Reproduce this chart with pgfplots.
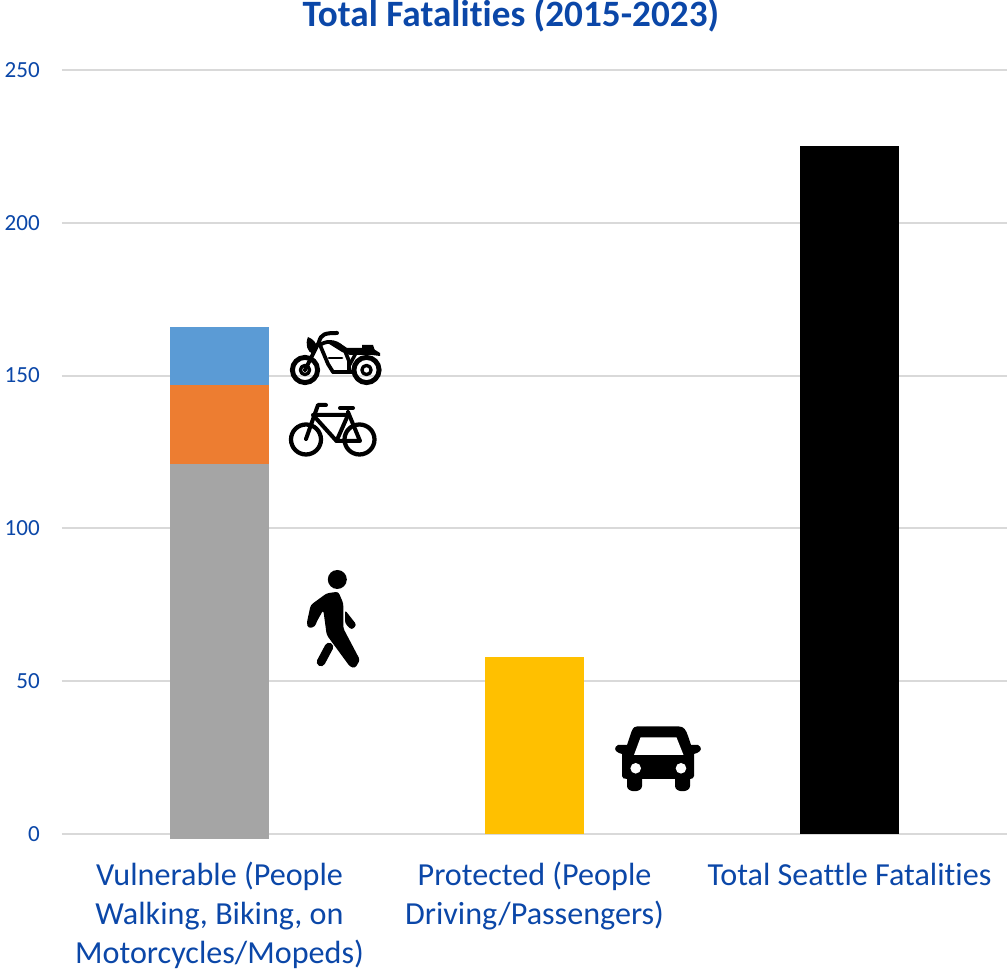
\documentclass[border=0pt]{standalone}
\usepackage{pgfplots}
\pgfplotsset{compat=1.18}
\usepackage{fontspec}
\setmainfont[Ligatures=NoCommon]{Carlito}
\definecolor{labelblue}{HTML}{0B47A8}
\definecolor{gridgray}{HTML}{D9D9D9}
\definecolor{walkgray}{HTML}{A5A5A5}
\definecolor{bikeorange}{HTML}{ED7D31}
\definecolor{motoblue}{HTML}{5B9BD5}
\definecolor{autoyellow}{HTML}{FFC000}
\begin{document}
\begin{tikzpicture}[x=0.75pt,y=0.75pt]
\path[use as bounding box] (0,0) rectangle (1007,970);
% Shared frame: plot area spans 945 x 764 units of 0.75pt
\pgfplotsset{frame/.style={
  at={(46.5pt,102pt)}, anchor=south west,
  scale only axis, width=708.75pt, height=573pt,
  xmin=-0.5, xmax=2.5, ymin=0, ymax=250,
  clip=false}}
\begin{axis}[
  frame,
  ybar stacked, bar width=74.25pt,
  ymajorgrids, grid style={gridgray, line width=1.5pt},
  axis line style={draw=none},
  major tick length=0pt,
  xtick={0,1,2},
  xticklabels={{Vulnerable (People\\Walking, Biking, on\\Motorcycles/Mopeds)},
               {Protected (People\\Driving/Passengers)},
               {\vphantom{(}Total Seattle Fatalities}},
  ytick={0,50,100,150,200,250},
  /pgf/number format/assume math mode=true,
  xticklabel style={align=center, anchor=north, inner sep=0pt, yshift=-20.6pt,
    font=\fontsize{24.1}{29.25}\selectfont, text=labelblue},
  yticklabel style={anchor=east, inner sep=0pt, xshift=-16.5pt,
    font=\fontsize{17.3}{20}\selectfont, text=labelblue},
  title={\textbf{Total Fatalities (2015-2023)}},
  title style={at={(0.475,1.0707)}, anchor=center, inner sep=0pt, yshift=-6pt,
    font=\fontsize{27.9}{30}\selectfont, text=labelblue},
]
\addplot[fill=walkgray, draw=none] coordinates {(0,121) (1,0) (2,0)};
\addplot[fill=bikeorange, draw=none] coordinates {(0,26) (1,0) (2,0)};
\addplot[fill=motoblue, draw=none] coordinates {(0,19) (1,0) (2,0)};
\addplot[fill=autoyellow, draw=none] coordinates {(0,0) (1,58) (2,0)};
\addplot[fill=black, draw=none] coordinates {(0,0) (1,0) (2,225)};
\end{axis}
% Foot of the grey column, which dips just under the zero line
\begin{axis}[frame, hide axis, ybar, bar width=74.25pt, bar shift=0pt]
\addplot[fill=walkgray, draw=none] coordinates {(0,-1.7)};
\end{axis}
% Mode icons, drawn in a y-down frame of 0.75pt units
\begin{scope}[yshift=727.5pt, y=-0.75pt, x=0.75pt, line cap=round, line join=round]
  % motorcycle
  \foreach \c in {305,366.5}{
    \draw[line width=3.7pt] (\c,370) circle (12.6);
    \draw[line width=2.5pt] (\c,370) circle (4.6);
  }
  \draw[line width=3pt] (305,370) -- (319,342) .. controls (321,334) and (325,333) .. (337,333);
  \fill (308,337) .. controls (313,339) and (317,343) .. (317,348) -- (313,354) .. controls (307,352) and (305,344) .. (308,337) -- cycle;
  \draw[line width=2.8pt, fill=white] (320,345) .. controls (328,339) and (340,342) .. (345,351) -- (349,361) -- (349,372) -- (333,372) -- (328,364) -- cycle;
  \fill (326,342) .. controls (335,341) and (342,344) .. (347,348) -- (372,348) -- (380,353) -- (380,356) -- (372,355) -- (350,355) -- (342,352) -- cycle;
  \fill (362,345) -- (373,345) -- (375,351) -- (362,351) -- cycle;
  \draw[line width=2.2pt] (329,358) -- (342,358);
  \fill[white] (328,346) circle (1.6);
  \draw[line width=2.6pt] (349,366) -- (356,353);
  \draw[line width=2.4pt] (333,372) -- (352,372);
  % bicycle
  \foreach \c in {306,359.5}{
    \draw[line width=3.2pt] (\c,439.5) circle (15);
  }
  \draw[line width=3pt] (326,405) -- (318,405) -- (306,439);
  \draw[line width=3pt] (313,415) -- (348,415) -- (336.5,441) -- (313,415);
  \draw[line width=3pt] (336.5,441) -- (360,441) -- (348,412);
  \draw[line width=3pt] (340,408) -- (353,408);
  % pedestrian
  \fill (337.3,579.5) circle (9.5);
  \fill[rounded corners=2pt] (326.7,593.3) -- (338.3,591.7) -- (343.3,603.3) -- (343.3,628.3)
     -- (360,660) -- (355,668.3) -- (350,666.7) -- (326.7,635) -- (323.3,610) -- (316.7,621.7)
     -- (315,626.7) -- (308.3,628.3) -- (306.7,623.3) -- (310.7,605) -- cycle;
  \draw[line width=6.4pt] (329,647) -- (321,662);
  \fill[rounded corners=2pt] (345,610) -- (356.7,625) -- (351.7,630) -- (345,623.3) -- cycle;
  % car
  \fill (637,726.5) -- (679,726.5) .. controls (684,726.5) and (686,730) .. (688,736) -- (691,745)
     -- (698,745) .. controls (702,747) and (702,751) .. (697,753) -- (694,754)
     -- (694,776) .. controls (694,778) and (692,779) .. (690,779)
     -- (690,786) .. controls (690,793) and (675,793) .. (675,786) -- (675,779)
     -- (642,779) -- (642,786) .. controls (642,793) and (627,793) .. (627,786)
     -- (627,779) .. controls (624,779) and (622,778) .. (622,776) -- (622,754)
     -- (619,753) .. controls (614,751) and (614,747) .. (618,745) -- (627,745)
     -- (630,736) .. controls (632,730) and (633,726.5) .. (637,726.5) -- cycle;
  \fill[white] (640.5,737.5) -- (676.5,737.5) -- (683.5,755) -- (634,755) -- cycle;
  \fill[white] (635.7,768.3) circle (5.3);
  \fill[white] (681,768.3) circle (5.3);
\end{scope}
\end{tikzpicture}
\end{document}
